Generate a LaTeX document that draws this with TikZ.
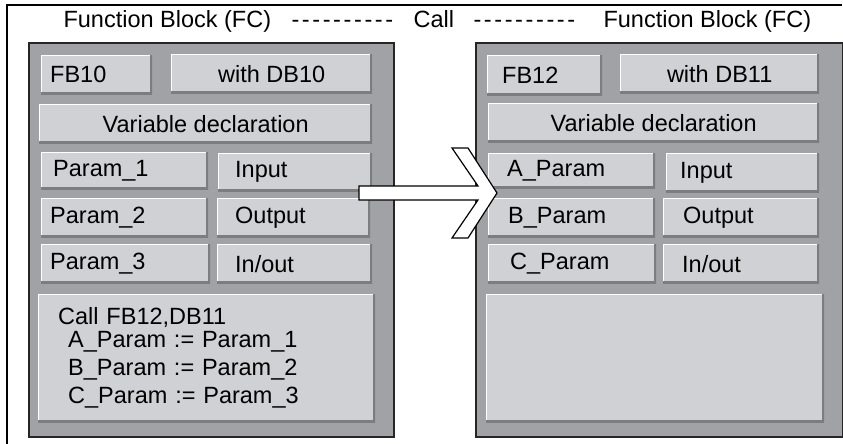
\documentclass[tikz,border=0pt]{standalone}
\usepackage{fontspec}
\setmainfont{Liberation Sans}
\usepackage{tikz}
\usetikzlibrary{positioning, calc}
\usepackage{xcolor}
\definecolor{panelgray}{RGB}{161,162,166}
\definecolor{cellgray}{RGB}{208,209,212}
\definecolor{bevelgray}{RGB}{125,125,128}
\newcommand{\dashrow}{-\kern2.6pt-\kern2.6pt-\kern2.6pt-\kern2.6pt-\kern2.6pt-\kern2.6pt-\kern2.6pt-\kern2.6pt-\kern2.6pt-}

\begin{document}
\begin{tikzpicture}[
    x=1pt, y=-1pt,
    font=\fontsize{23.5}{28}\selectfont,
    panel/.style={rectangle, draw=black!85, line width=1.6pt, fill=panelgray, anchor=north west, inner sep=0pt},
    cell/.style={rectangle, fill=cellgray, anchor=north west, inner ysep=0pt, align=left, minimum height=39pt,
                 path picture={
                   \draw[white, line width=2.4pt] (path picture bounding box.south west) |- (path picture bounding box.north east);
                   \draw[bevelgray, line width=3.6pt] (path picture bounding box.south west) -| (path picture bounding box.north east);
                 }},
    callarrow/.style={draw=black, line width=1.2pt, fill=white, line join=miter}
]
\useasboundingbox (0,0) rectangle (843,444);
\draw[line width=1.2pt] (7,444) -- (7,5) -- (842,5);

\node[anchor=base west] (headL) at (60,28) {Function Block (FC)};
\node[anchor=base west] (dashL) at (288,28) {\dashrow};
\node[anchor=base west] (call) at (410,28) {Call};
\node[anchor=base west] (dashR) at (470,28) {\dashrow};
\node[anchor=base west] (headR) at (600,28) {Function Block (FC)};

\node[panel, minimum width=365pt, minimum height=394pt] (panL) at (28,42) {};
\node[panel, minimum width=367pt, minimum height=394pt] (panR) at (475,42) {};

\node[cell, inner xsep=9pt, text width=93pt] (fbL) at (41,55) {FB10};
\node[cell, minimum width=201pt, align=center] (dbL) at (171,54) {with DB10};
\node[cell, minimum width=333pt, align=center] (varL) at (39,104) {Variable declaration};
\node[cell, inner xsep=12pt, text width=143pt, minimum height=37pt] (pa1) at (41,152) {Param\_1};
\node[cell, inner xsep=17pt, text width=120pt, minimum height=38pt] (inL) at (218,153) {Input};
\node[cell, inner xsep=9pt, text width=149pt] (pa2) at (41,198) {Param\_2};
\node[cell, inner xsep=18pt, text width=117pt] (outL) at (217,198) {Output};
\node[cell, inner xsep=9pt, text width=151pt] (pa3) at (41,244) {Param\_3};
\node[cell, inner xsep=18pt, text width=119pt] (ioL) at (217,244) {In/out};
\node[cell, inner xsep=20pt, text width=297pt, minimum height=128pt] (callL) at (38,294)
    {Call FB12,DB11\\[-5pt]
     \hspace*{10pt}A\_Param := Param\_1\\
     \hspace*{10pt}B\_Param := Param\_2\\
     \hspace*{10pt}C\_Param := Param\_3};

\node[cell, inner xsep=15pt, text width=85pt, minimum height=40pt] (fbR) at (487,55) {FB12};
\node[cell, minimum width=199pt, align=center] (dbR) at (620,54) {with DB11};
\node[cell, minimum width=331pt, align=center] (varR) at (488,103) {Variable declaration};
\node[cell, inner xsep=19pt, text width=129pt, minimum height=35pt] (paA) at (488,153) {A\_Param};
\node[cell, inner xsep=14pt, text width=125pt] (inR) at (666,153) {Input};
\node[cell, inner xsep=20pt, text width=127pt] (paB) at (488,198) {B\_Param};
\node[cell, inner xsep=20pt, text width=116pt] (outR) at (663,198) {Output};
\node[cell, inner xsep=22pt, text width=124pt] (paC) at (488,244) {C\_Param};
\node[cell, inner xsep=19pt, text width=118pt] (ioR) at (663,244) {In/out};
\node[cell, minimum width=338pt, minimum height=128pt] (emptyR) at (486,294) {};

\coordinate (tail) at (359,193);
\coordinate (tip) at (497,193);
\draw[callarrow] ($(tail)+(0,-7)$) -- ($(tip)+(-19,-7)$) -- ($(tip)+(-45,-45)$) -- ($(tip)+(-29,-45)$)
    -- (tip) -- ($(tip)+(-29,45)$) -- ($(tip)+(-45,45)$) -- ($(tip)+(-19,7)$) -- ($(tail)+(0,7)$) -- cycle;
\end{tikzpicture}
\end{document}
